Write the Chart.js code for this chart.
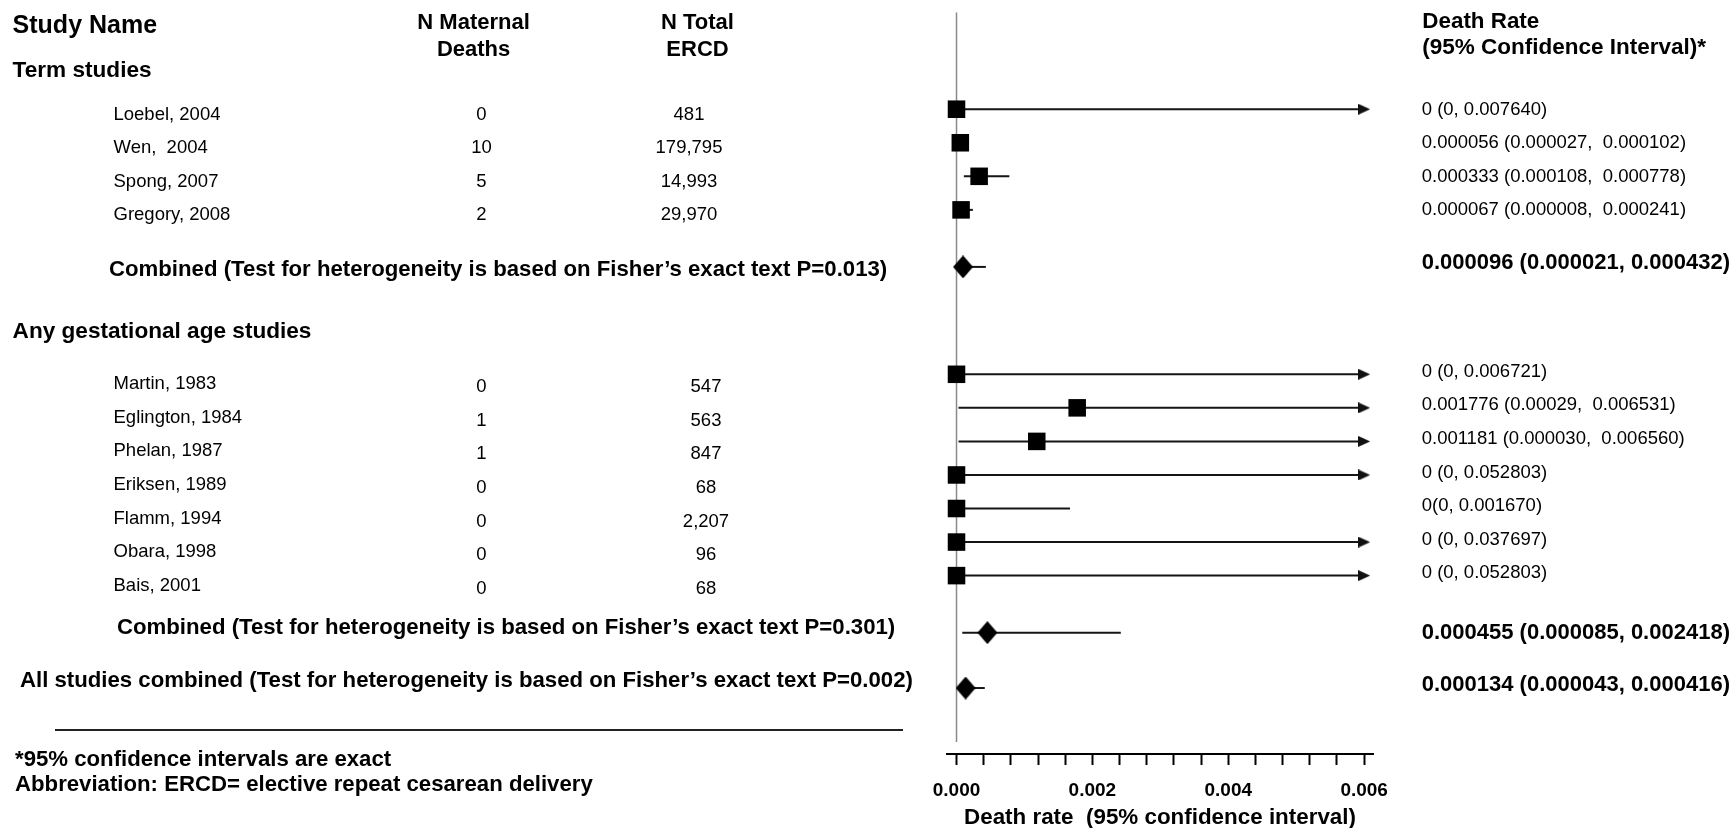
<!DOCTYPE html>
<html>
<head>
<meta charset="utf-8">
<title>Maternal death rate after elective repeat cesarean delivery</title>
<script src="https://cdn.jsdelivr.net/npm/chart.js@4.4.0/dist/chart.umd.min.js"></script>
<style>
  html, body { margin: 0; padding: 0; background: #fff; }
  #wrap { width: 1732px; height: 828px; }
</style>
</head>
<body>
<div id="wrap"><canvas id="forest" width="1732" height="828"></canvas></div>
<script>
// Term studies
const termStudies = ["Loebel, 2004", "Wen,  2004", "Spong, 2007", "Gregory, 2008"];
const termDeaths = [0, 10, 5, 2];
const termTotals = ["481", "179,795", "14,993", "29,970"];
const termRates = [0, 0.000056, 0.000333, 0.000067];
const termLower = [0, 0.000027, 0.000108, 0.000008];
const termUpper = [0.007640, 0.000102, 0.000778, 0.000241];
const termLabels = ["0 (0, 0.007640)", "0.000056 (0.000027,  0.000102)",
                    "0.000333 (0.000108,  0.000778)", "0.000067 (0.000008,  0.000241)"];

// Any gestational age studies
const anyStudies = ["Martin, 1983", "Eglington, 1984", "Phelan, 1987", "Eriksen, 1989",
                    "Flamm, 1994", "Obara, 1998", "Bais, 2001"];
const anyDeaths = [0, 1, 1, 0, 0, 0, 0];
const anyTotals = ["547", "563", "847", "68", "2,207", "96", "68"];
const anyRates = [0, 0.001776, 0.001181, 0, 0, 0, 0];
// Eglington's whisker starts at the axis in the source drawing
const anyLower = [0, 0.000029, 0.000030, 0, 0, 0, 0];
const anyUpper = [0.006721, 0.006531, 0.006560, 0.052803, 0.001670, 0.037697, 0.052803];
const anyLabels = ["0 (0, 0.006721)", "0.001776 (0.00029,  0.006531)", "0.001181 (0.000030,  0.006560)",
                   "0 (0, 0.052803)", "0(0, 0.001670)", "0 (0, 0.037697)", "0 (0, 0.052803)"];

// Pooled estimates: term, any gestational age, all studies
const pooledNames = [
  "Combined (Test for heterogeneity is based on Fisher\u2019s exact text P=0.013)",
  "Combined (Test for heterogeneity is based on Fisher\u2019s exact text P=0.301)",
  "All studies combined (Test for heterogeneity is based on Fisher\u2019s exact text P=0.002)"
];
const pooledRates = [0.000096, 0.000455, 0.000134];
const pooledLower = [0.000021, 0.000085, 0.000043];
const pooledUpper = [0.000432, 0.002418, 0.000416];
const pooledLabels = ["0.000096 (0.000021, 0.000432)", "0.000455 (0.000085, 0.002418)",
                      "0.000134 (0.000043, 0.000416)"];

// x axis
const xTickLabels = ["0.000", "0.002", "0.004", "0.006"];
const xLabelStep = 0.002;
const xMinorStep = 0.0004;
const xAxisMax = 0.006;   // whiskers beyond this end in an arrow

const FONT = '"Liberation Sans", Arial, Helvetica, sans-serif';

// ---- row layout (in row units on the y scale) ----
const STEP = 1, POOL_GAP = 1.7, GROUP_GAP = 3.2, ALL_GAP = 1.65;
const groups = [
  { title: "Term studies", names: termStudies, deaths: termDeaths, totals: termTotals,
    rates: termRates, lower: termLower, upper: termUpper, labels: termLabels,
    totalX: 689, titleDy: -32.2, nameDy: 10.6, numDy: 10.6, labelDy: 5.4 },
  { title: "Any gestational age studies", names: anyStudies, deaths: anyDeaths, totals: anyTotals,
    rates: anyRates, lower: anyLower, upper: anyUpper, labels: anyLabels,
    totalX: 706, titleDy: -35.8, nameDy: 15, numDy: 18, labelDy: 2.6 }
];
const pooledStyle = [ { x: 109, dy: 9.3, labelDy: 2 }, { x: 117, dy: 1.5, labelDy: 6 }, { x: 20, dy: -0.8, labelDy: 3 } ];

const rows = [];
let pos = 1;
groups.forEach((g, gi) => {
  if (gi > 0) pos += GROUP_GAP;
  g.start = pos;
  g.names.forEach((n, i) => {
    if (i > 0) pos += STEP;
    rows.push({ pos, rate: g.rates[i], lo: g.lower[i], hi: g.upper[i], pooled: false });
  });
  pos += POOL_GAP;
  g.pooledPos = pos;
  rows.push({ pos, rate: pooledRates[gi], lo: pooledLower[gi], hi: pooledUpper[gi], pooled: true });
});
pos += ALL_GAP;
const allPos = pos;
rows.push({ pos, rate: pooledRates[2], lo: pooledLower[2], hi: pooledUpper[2], pooled: true });
const pooledPos = [groups[0].pooledPos, groups[1].pooledPos, allPos];

const yMin = -1.885, yMax = 20.216, refLineEnd = 19.86;

// marker shapes
function makeDiamond(w, h) {
  const c = document.createElement('canvas');
  c.width = w; c.height = h;
  const g = c.getContext('2d');
  g.fillStyle = '#000';
  g.beginPath();
  g.moveTo(w / 2, 0); g.lineTo(w, h / 2); g.lineTo(w / 2, h); g.lineTo(0, h / 2);
  g.closePath(); g.fill();
  return c;
}
function makeArrow(w, h) {
  const c = document.createElement('canvas');
  c.width = w; c.height = h;
  const g = c.getContext('2d');
  g.fillStyle = '#111';
  g.beginPath();
  g.moveTo(0, 0); g.lineTo(w, h / 2); g.lineTo(0, h);
  g.closePath(); g.fill();
  return c;
}
const diamond = makeDiamond(20, 23);
const arrow = makeArrow(12, 11);

// ---- datasets ----
const datasets = [];
datasets.push({
  label: 'estimate',
  data: rows.map(r => ({ x: r.rate, y: r.pos })),
  pointStyle: rows.map(r => r.pooled ? diamond : 'rect'),
  pointRadius: 12.4,
  pointBackgroundColor: '#000',
  pointBorderWidth: 0,
  clip: false
});
const clipped = rows.filter(r => r.hi > xAxisMax);
datasets.push({
  label: 'arrows',
  data: clipped.map(r => ({ x: xAxisMax, y: r.pos })),
  pointStyle: arrow,
  pointRadius: 6,
  clip: false
});
rows.forEach((r, i) => {
  datasets.push({
    label: 'ci' + i,
    data: [{ x: r.lo, y: r.pos }, { x: Math.min(r.hi, xAxisMax), y: r.pos }],
    showLine: true,
    borderColor: '#151515',
    borderWidth: 2,
    pointRadius: 0,
    clip: false
  });
});
datasets.push({
  label: 'reference',
  data: [{ x: 0, y: yMin }, { x: 0, y: refLineEnd }],
  showLine: true,
  borderColor: '#8a8a8a',
  borderWidth: 1.5,
  pointRadius: 0,
  clip: false
});

// ---- table text ----
const tablePlugin = {
  id: 'table',
  afterDraw(chart) {
    const ctx = chart.ctx;
    const ys = chart.scales.y;
    const txt = (s, x, y, size, bold, align) => {
      ctx.font = (bold ? 'bold ' : '') + size + 'px ' + FONT;
      ctx.textAlign = align || 'left';
      ctx.fillText(s, x, y);
    };
    ctx.save();
    ctx.fillStyle = '#000';
    ctx.textBaseline = 'alphabetic';

    // headers
    txt("Study Name", 12.6, 33.3, 25, true);
    txt("N Maternal", 473.6, 29.3, 22, true, 'center');
    txt("Deaths", 473.6, 56, 22, true, 'center');
    txt("N Total", 697.5, 29.3, 22, true, 'center');
    txt("ERCD", 697.5, 56, 22, true, 'center');
    txt("Death Rate", 1422.3, 28.3, 22.4, true);
    txt("(95% Confidence Interval)*", 1422.3, 54, 22.5, true);

    groups.forEach(g => {
      const y0 = ys.getPixelForValue(g.start);
      txt(g.title, 12.6, y0 + g.titleDy, 22.6, true);
      g.names.forEach((n, i) => {
        const py = ys.getPixelForValue(g.start + i * STEP);
        txt(n, 113.5, py + g.nameDy, 18.5, false);
        txt(String(g.deaths[i]), 481.5, py + g.numDy, 18.5, false, 'center');
        txt(g.totals[i], g.totalX, py + g.numDy, 18.5, false, 'center');
        txt(g.labels[i], 1421.7, py + g.labelDy, 18.5, false);
      });
    });

    pooledNames.forEach((n, i) => {
      const py = ys.getPixelForValue(pooledPos[i]);
      txt(n, pooledStyle[i].x, py + pooledStyle[i].dy, 22.2, true);
      txt(pooledLabels[i], 1421.7, py + pooledStyle[i].labelDy, 22, true);
    });

    // separator and footnotes
    ctx.strokeStyle = '#222';
    ctx.lineWidth = 2;
    ctx.beginPath();
    ctx.moveTo(55, 730);
    ctx.lineTo(903, 730);
    ctx.stroke();
    txt("*95% confidence intervals are exact", 15, 766, 22.2, true);
    txt("Abbreviation: ERCD= elective repeat cesarean delivery", 15, 791, 22.2, true);
    ctx.restore();
  }
};

Chart.defaults.font.family = FONT;
Chart.defaults.color = '#000';

new Chart(document.getElementById('forest').getContext('2d'), {
  type: 'scatter',
  data: { datasets },
  options: {
    responsive: false,
    animation: false,
    events: [],
    layout: { padding: { left: 947, right: 359, top: 7, bottom: 0 } },
    plugins: { legend: { display: false }, tooltip: { enabled: false } },
    scales: {
      x: {
        type: 'linear',
        min: -0.00014,
        max: 0.00613,
        afterBuildTicks: s => {
          const n = Math.round(xAxisMax / xMinorStep);
          s.ticks = [];
          for (let i = 0; i <= n; i++) s.ticks.push({ value: +(i * xMinorStep).toFixed(5) });
        },
        afterFit: s => { s.height = 74; },
        ticks: {
          autoSkip: false,
          maxRotation: 0,
          minRotation: 0,
          padding: 14,
          color: '#000',
          font: { size: 19, weight: 'bold' },
          callback: v => {
            const k = Math.round(v / xLabelStep);
            return Math.abs(v - k * xLabelStep) < 1e-9 ? xTickLabels[k] : '';
          }
        },
        grid: {
          drawOnChartArea: false,
          drawTicks: true,
          tickLength: 11,
          tickColor: '#000',
          tickWidth: 2,
          color: '#000'
        },
        border: { display: true, color: '#000', width: 2 },
        title: {
          display: true,
          text: 'Death rate  (95% confidence interval)',
          color: '#000',
          font: { size: 22.4, weight: 'bold', lineHeight: 0.95 },
          padding: { top: 0, bottom: 0 }
        }
      },
      y: {
        type: 'linear',
        display: false,
        reverse: true,
        min: yMin,
        max: yMax
      }
    }
  },
  plugins: [tablePlugin]
});
</script>
</body>
</html>
